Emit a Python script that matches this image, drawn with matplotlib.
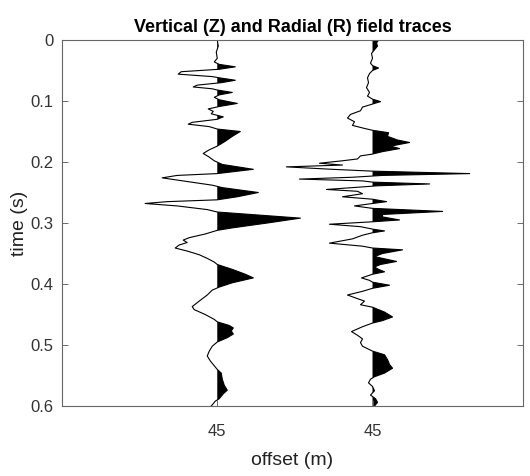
import numpy as np
import matplotlib
matplotlib.use("Agg")
from matplotlib import pyplot as plt

plt.rcParams['font.family'] = ['Liberation Sans Narrow', 'Liberation Sans', 'DejaVu Sans']

# trace positions (axis units) and labels
trace_pos = [1, 2]
trace_labels = ['45', '45']
gain = 1 / 155.0   # amplitude units -> offset axis units

# vertical component (Z): time (s), amplitude
z_t = [0.000, 0.010, 0.020, 0.030, 0.036, 0.040, 0.044, 0.048, 0.052, 0.056,
       0.060, 0.062, 0.066, 0.070, 0.074, 0.077, 0.080, 0.082, 0.086, 0.090,
       0.094, 0.098, 0.104, 0.109, 0.113, 0.117, 0.121, 0.126, 0.130, 0.135,
       0.138, 0.142, 0.146, 0.150, 0.158, 0.166, 0.174, 0.180, 0.186, 0.192,
       0.198, 0.204, 0.212, 0.219, 0.222, 0.226, 0.232, 0.238, 0.242, 0.250,
       0.257, 0.262, 0.265, 0.268, 0.272, 0.278, 0.282, 0.292, 0.300, 0.308,
       0.312, 0.318, 0.324, 0.328, 0.332, 0.336, 0.341, 0.346, 0.352, 0.358,
       0.364, 0.368, 0.376, 0.384, 0.390, 0.398, 0.405, 0.410, 0.418, 0.428,
       0.437, 0.442, 0.450, 0.458, 0.462, 0.468, 0.472, 0.477, 0.482, 0.488,
       0.495, 0.502, 0.510, 0.518, 0.526, 0.534, 0.540, 0.546, 0.556, 0.566,
       0.574, 0.580, 0.588, 0.592, 0.600]
z_amp = [0, 1, -1, 0, -3, 2, 18, 2, -36, -39,
         -5, 2, 18, 4, -20, -24, -5, 0, 15, 2,
         -3, 2, 20, 2, -9, -4, -6, 6, 0, -25,
         -29, -8, 0, 23, 15, 8, 0, -8, -14, -8,
         -3, 5, 36, 0, -40, -55, -30, -5, 5, 41,
         20, 0, -50, -72, -40, -10, 0, 83, 50, 15,
         0, -12, -28, -34, -30, -38, -42, -30, -18, -10,
         -3, 0, 15, 28, 36, 15, 2, -5, -10, -18,
         -25, -23, -12, -3, 0, 12, 16, 14, 16, 10,
         0, -5, -8, -10, -7, -3, 0, 4, 5, 7,
         10, 6, 2, -2, -6]

# radial component (R): time (s), amplitude
r_t = [0.000, 0.005, 0.010, 0.016, 0.022, 0.030, 0.038, 0.042, 0.046, 0.050,
       0.055, 0.062, 0.070, 0.078, 0.086, 0.092, 0.097, 0.101, 0.105, 0.110,
       0.116, 0.122, 0.128, 0.134, 0.140, 0.145, 0.148, 0.152, 0.158, 0.164,
       0.168, 0.174, 0.178, 0.183, 0.187, 0.190, 0.195, 0.198, 0.202, 0.205,
       0.208, 0.212, 0.215, 0.219, 0.222, 0.225, 0.228, 0.231, 0.233, 0.236,
       0.239, 0.242, 0.245, 0.248, 0.252, 0.257, 0.261, 0.265, 0.268, 0.272,
       0.276, 0.281, 0.286, 0.290, 0.295, 0.298, 0.302, 0.306, 0.310, 0.313,
       0.316, 0.320, 0.326, 0.333, 0.338, 0.341, 0.344, 0.350, 0.355, 0.358,
       0.363, 0.368, 0.372, 0.376, 0.380, 0.384, 0.390, 0.394, 0.397, 0.402,
       0.407, 0.412, 0.418, 0.424, 0.428, 0.434, 0.438, 0.446, 0.454, 0.460,
       0.464, 0.470, 0.478, 0.484, 0.490, 0.496, 0.502, 0.510, 0.516, 0.524,
       0.532, 0.538, 0.546, 0.552, 0.556, 0.562, 0.568, 0.575, 0.582, 0.588,
       0.594, 0.600]
r_amp = [6, 4, 5, 2, -1, 0, -2, 0, 6, 0,
         -3, -5, -4, -6, -3, -5, 0, 8, 0, -10,
         -12, -22, -25, -18, -20, -8, 0, 16, 15, 25,
         37, 18, 27, 10, 0, -12, -15, -30, -53, -30,
         -86, -40, 0, 97, 10, -20, -73, -10, 0, 57,
         5, -20, -46, -15, -10, -30, 0, 14, 0, -18,
         0, 70, 10, 10, 27, 0, -43, -12, 0, 12,
         0, -10, -20, -43, -10, 0, 30, 10, 2, 10,
         24, 8, 2, 6, 12, 0, -11, -3, 0, 17,
         0, -10, -25, -15, -8, -12, 0, 12, 20, 10,
         0, -10, -21, -15, -10, -12, -10, 0, 12, 15,
         17, 20, 12, 2, -2, -4, 0, 2, -2, 3,
         5, 2]

fig = plt.figure(figsize=(5.3, 4.76), dpi=100)
ax = fig.add_axes([0.117, 0.147, 0.870, 0.769])

for pos, t, a in [(trace_pos[0], z_t, z_amp), (trace_pos[1], r_t, r_amp)]:
    t = np.array(t)
    x = pos + np.array(a) * gain
    ax.plot(x, t, color='k', lw=0.8)
    ax.fill_betweenx(t, pos, x, where=x >= pos, interpolate=True,
                     color='k', lw=0)

ax.set_xlim(0, 2.97)
ax.set_ylim(0.6, 0)
ax.set_xticks(trace_pos)
ax.set_xticklabels(trace_labels)
ax.set_yticks(np.arange(0, 0.61, 0.1))
ax.set_yticklabels(['0', '0.1', '0.2', '0.3', '0.4', '0.5', '0.6'])
ax.tick_params(direction='in', length=4, labelsize=12, colors='#555555',
               labelcolor='#333333', right=True, top=False, width=0.6)
ax.tick_params(axis='x', pad=13)
ax.tick_params(axis='y', pad=6)
for s in ax.spines.values():
    s.set_color('#666666')
    s.set_linewidth(0.8)

ax.set_title('Vertical (Z) and Radial (R) field traces', fontsize=13,
             fontweight='bold', pad=6)
ax.set_xlabel('offset (m)', fontsize=14, labelpad=9, color='#222222')
ax.set_ylabel('time (s)', fontsize=14, color='#222222', labelpad=2)

fig.savefig('out.png', dpi=100)
